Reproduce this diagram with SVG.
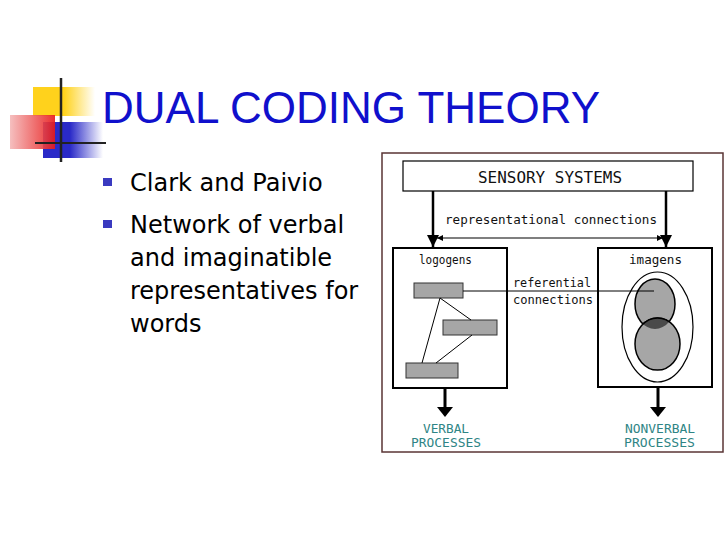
<svg xmlns="http://www.w3.org/2000/svg" width="728" height="546" viewBox="0 0 728 546">
<defs>
<linearGradient id="gy" x1="0" x2="1" y1="0" y2="0"><stop offset="0" stop-color="#ffd21c"/><stop offset="0.5" stop-color="#ffd21c"/><stop offset="1" stop-color="#ffd21c" stop-opacity="0"/></linearGradient>
<linearGradient id="gr" x1="0" x2="1" y1="0" y2="0"><stop offset="0" stop-color="#f4b8b8"/><stop offset="1" stop-color="#e81818"/></linearGradient>
<linearGradient id="gb" x1="0" x2="1" y1="0" y2="0"><stop offset="0" stop-color="#2a2ac8"/><stop offset="0.45" stop-color="#2a2ac8"/><stop offset="1" stop-color="#2a2ac8" stop-opacity="0"/></linearGradient>
<marker id="ah" viewBox="0 0 10 10" refX="10" refY="5" markerWidth="5" markerHeight="5" orient="auto-start-reverse"><path d="M0,0 L10,5 L0,10 z" fill="#000"/></marker>
<clipPath id="ov"><ellipse cx="655" cy="304" rx="20" ry="25"/></clipPath>
</defs>
<style>
.mono{font-family:"DejaVu Sans Mono","Liberation Mono",monospace;fill:#111}
.teal{font-family:"DejaVu Sans Mono","Liberation Mono",monospace;fill:#2f8585}
.body{font-family:"DejaVu Sans","Liberation Sans",sans-serif;font-size:24px;fill:#000}
.box{fill:#fff;stroke:#000;stroke-width:2}
.gray{fill:#a6a6a6;stroke:#333;stroke-width:1}
.ln{stroke:#000;stroke-width:1;fill:none}
</style>
<rect width="728" height="546" fill="#fff"/>
<g id="logo">
<rect x="33" y="87" width="62" height="29" fill="url(#gy)"/>
<rect x="43" y="122" width="60" height="36" fill="url(#gb)"/>
<rect x="10" y="115" width="45" height="34" fill="url(#gr)" opacity="0.9"/>
<line x1="61" y1="78" x2="61" y2="162" stroke="#222" stroke-width="2.5"/>
<line x1="35" y1="143" x2="106" y2="143" stroke="#222" stroke-width="2"/>
</g>
<text x="102" y="123" font-family="Liberation Sans, Arial, sans-serif" font-size="44" fill="#1010cc" textLength="498" lengthAdjust="spacingAndGlyphs">DUAL CODING THEORY</text>
<g id="bullets">
<rect x="103" y="178" width="9" height="8" fill="#3a3ac0"/>
<rect x="103" y="220" width="9" height="8" fill="#3a3ac0"/>
<text class="body" x="130" y="191">Clark and Paivio</text>
<text class="body" x="130" y="233">Network of verbal</text>
<text class="body" x="130" y="266">and imaginatible</text>
<text class="body" x="130" y="299">representatives for</text>
<text class="body" x="130" y="332">words</text>
</g>
<rect x="382" y="153" width="341" height="299" fill="#fff" stroke="#5a3434" stroke-width="1.5"/>
<g id="sensory">
<rect x="403" y="161" width="290" height="30" fill="#fff" stroke="#000" stroke-width="1.2"/>
<text class="mono" x="478" y="183" font-size="15" textLength="144" lengthAdjust="spacingAndGlyphs">SENSORY SYSTEMS</text>
</g>
<text class="mono" x="445" y="224" font-size="12" textLength="212" lengthAdjust="spacingAndGlyphs">representational connections</text>
<g id="logogens">
<rect class="box" x="393" y="248" width="114" height="140"/>
<text class="mono" x="419" y="264" font-size="11.5" textLength="53" lengthAdjust="spacingAndGlyphs">logogens</text>
<rect class="gray" x="414" y="283" width="49" height="15"/>
<rect class="gray" x="443" y="320" width="54" height="15"/>
<rect class="gray" x="406" y="363" width="52" height="15"/>
</g>
<g id="referential">
<text class="mono" x="513" y="287" font-size="12" textLength="78" lengthAdjust="spacingAndGlyphs">referential</text>
<text class="mono" x="513" y="304" font-size="12" textLength="80" lengthAdjust="spacingAndGlyphs">connections</text>
</g>
<g id="imagens">
<rect class="box" x="598" y="248" width="114" height="139"/>
<text class="mono" x="629" y="264" font-size="12" textLength="53" lengthAdjust="spacingAndGlyphs">imagens</text>
<ellipse cx="657.5" cy="327" rx="35.5" ry="55" fill="none" stroke="#000" stroke-width="1.2"/>
<ellipse cx="655" cy="304" rx="20" ry="25" fill="#a6a6a6" stroke="#000" stroke-width="1.5"/>
<ellipse cx="657.5" cy="344" rx="22.5" ry="26" fill="#a6a6a6" stroke="#000" stroke-width="1.5"/>
<ellipse cx="657.5" cy="344" rx="22.5" ry="26" fill="#4a4a4a" stroke="#000" stroke-width="1.5" clip-path="url(#ov)"/>
</g>
<g id="outputs">
<text class="teal" x="423" y="433" font-size="13" textLength="46" lengthAdjust="spacingAndGlyphs">VERBAL</text>
<text class="teal" x="411" y="447" font-size="13" textLength="70" lengthAdjust="spacingAndGlyphs">PROCESSES</text>
<text class="teal" x="625" y="433" font-size="13" textLength="70" lengthAdjust="spacingAndGlyphs">NONVERBAL</text>
<text class="teal" x="624" y="447" font-size="13" textLength="71" lengthAdjust="spacingAndGlyphs">PROCESSES</text>
</g>
<g id="connectors">
<line x1="433" y1="191" x2="433" y2="247" stroke="#000" stroke-width="2.5" marker-end="url(#ah)"/>
<line x1="666" y1="191" x2="666" y2="247" stroke="#000" stroke-width="2.5" marker-end="url(#ah)"/>
<line x1="437" y1="238" x2="663" y2="238" stroke="#000" stroke-width="1.2" marker-start="url(#ah)" marker-end="url(#ah)"/>
<line x1="463" y1="291" x2="654" y2="291" class="ln"/>
<line x1="440" y1="298" x2="471" y2="320" class="ln"/>
<line x1="440" y1="298" x2="422" y2="363" class="ln"/>
<line x1="472" y1="335" x2="436" y2="363" class="ln"/>
<line x1="445" y1="388" x2="445" y2="409" stroke="#000" stroke-width="3"/>
<path d="M437,407 L453,407 L445,417 z" fill="#000"/>
<line x1="658" y1="387" x2="658" y2="409" stroke="#000" stroke-width="3"/>
<path d="M650,407 L666,407 L658,417 z" fill="#000"/>
</g>
</svg>
